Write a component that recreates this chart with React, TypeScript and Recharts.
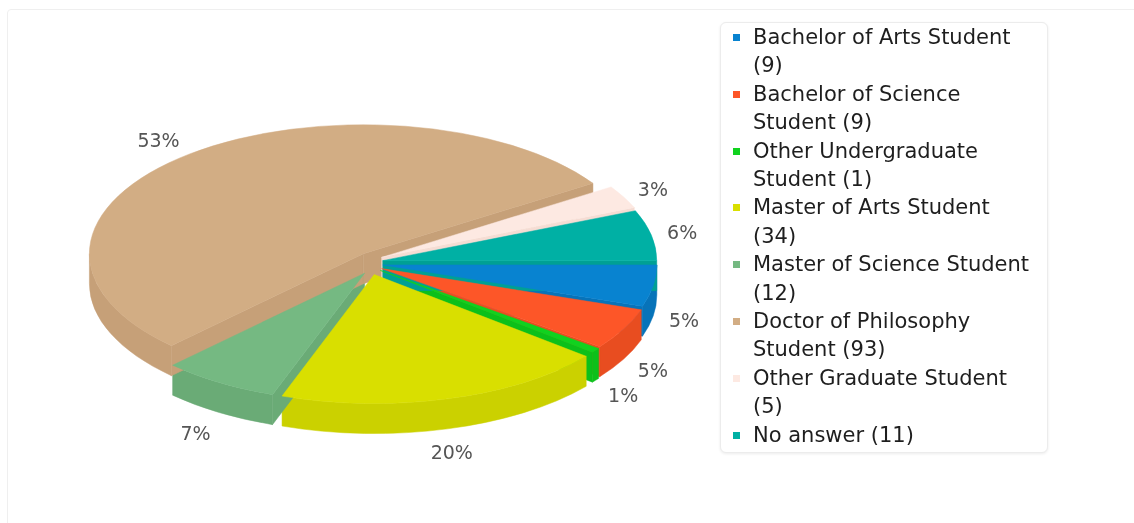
import React from 'react';
import { PieChart, Pie, Legend } from 'recharts';

const CATEGORIES = [
  'Bachelor of Arts Student',
  'Bachelor of Science Student',
  'Other Undergraduate Student',
  'Master of Arts Student',
  'Master of Science Student',
  'Doctor of Philosophy Student',
  'Other Graduate Student',
  'No answer',
];
const COUNTS = [9, 9, 1, 34, 12, 93, 5, 11];
const TOP_COLORS = ['#0883d0', '#fd5628', '#10d21f', '#d9df00', '#75b982', '#d2ad84', '#fde9e2', '#00b0a4'];
const SIDE_COLORS = ['#0773b9', '#e84d20', '#0cc01a', '#cbd100', '#6aab76', '#c6a078', '#f5dcd3', '#00a094'];

const data = CATEGORIES.map((name, i) => ({ name, value: COUNTS[i] }));

const K = 129 / 274;
const DEPTH = 30;
const EXPLODE = 12;
const FONT = '"DejaVu Sans", sans-serif';

const rad = (d: number) => (d * Math.PI) / 180;

function geom(p: any) {
  const rx = p.outerRadius;
  const ry = rx * K;
  const t1 = -p.startAngle;
  const t2 = -p.endAngle;
  const m = -p.midAngle;
  const ax = p.cx + EXPLODE * Math.cos(rad(m));
  const ay = p.cy + EXPLODE * Math.sin(rad(m));
  const pt = (t: number, dy = 0) => [ax + rx * Math.cos(rad(t)), ay + ry * Math.sin(rad(t)) + dy];
  return { rx, ry, t1, t2, m, ax, ay, pt };
}

const f = (n: number) => n.toFixed(2);

const renderSides = (p: any) => {
  const { rx, ry, t1, t2, ax, ay, pt } = geom(p);
  const color = SIDE_COLORS[p.index];
  const parts: React.ReactNode[] = [];
  const face = (t: number, key: string) => {
    const [x, y] = pt(t);
    const [x2, y2] = pt(t, DEPTH);
    parts.push(
      <path
        key={key}
        d={`M${f(ax)},${f(ay)} L${f(x)},${f(y)} L${f(x2)},${f(y2)} L${f(ax)},${f(ay + DEPTH)} Z`}
        fill={color}
        stroke={color}
        strokeWidth={0.5}
      />
    );
  };
  if (Math.cos(rad(t1)) < 0) face(t1, 's');
  if (Math.cos(rad(t2)) > 0) face(t2, 'e');
  const a = Math.max(t1, 0);
  const b = Math.min(t2, 180);
  if (b > a) {
    const [x1, y1] = pt(a);
    const [x2, y2] = pt(b);
    const [x3, y3] = pt(b, DEPTH);
    const [x4, y4] = pt(a, DEPTH);
    parts.push(
      <path
        key="o"
        d={`M${f(x1)},${f(y1)} A${f(rx)},${f(ry)} 0 0 1 ${f(x2)},${f(y2)} L${f(x3)},${f(y3)} A${f(rx)},${f(ry)} 0 0 0 ${f(x4)},${f(y4)} Z`}
        fill={color}
        stroke={color}
        strokeWidth={0.5}
      />
    );
  }
  return <g key={`side-${p.index}`}>{parts}</g>;
};

const renderTops = (p: any) => {
  const { rx, ry, t1, t2, m, ax, ay, pt } = geom(p);
  const color = TOP_COLORS[p.index];
  const [x1, y1] = pt(t1);
  const [x2, y2] = pt(t2);
  const large = t2 - t1 > 180 ? 1 : 0;
  const cm = Math.cos(rad(m));
  const sm = Math.sin(rad(m));
  const front = sm > 0;
  const lx = p.cx + (rx + 28) * cm;
  const ly = p.cy + (ry + (front ? 36 : 30)) * sm + (front ? DEPTH : 0);
  const anchor = cm > 0.3 ? 'start' : cm < -0.3 ? 'end' : 'middle';
  return (
    <g key={`top-${p.index}`}>
      <path
        d={`M${f(ax)},${f(ay)} L${f(x1)},${f(y1)} A${f(rx)},${f(ry)} 0 ${large} 1 ${f(x2)},${f(y2)} Z`}
        fill={color}
        stroke={color}
        strokeWidth={0.5}
      />
      <text
        x={lx}
        y={ly}
        textAnchor={anchor}
        dominantBaseline="central"
        fill="#555555"
        fontSize={19}
        fontFamily={FONT}
      >
        {`${Math.round(p.percent * 100)}%`}
      </text>
    </g>
  );
};

const renderLegend = (props: any) => {
  const seen = new Set<string>();
  const items = (props.payload || [])
    .filter((e: any) => {
      if (e.type === 'none' || seen.has(e.value)) return false;
      seen.add(e.value);
      return true;
    })
    .sort((a: any, b: any) => CATEGORIES.indexOf(a.value) - CATEGORIES.indexOf(b.value));
  return (
    <div
      style={{
        border: '1px solid #ececec',
        borderRadius: 6,
        boxShadow: '0 1px 3px rgba(0,0,0,0.08)',
        background: '#fff',
        paddingBottom: 3,
        fontFamily: FONT,
        fontSize: 21,
        lineHeight: '28.4px',
        color: '#1e1e1e',
        width: 328,
        boxSizing: 'border-box',
        textAlign: 'left',
      }}
    >
      {items.map((e: any) => {
        const idx = CATEGORIES.indexOf(e.value);
        return (
          <div key={e.value} style={{ display: 'flex', alignItems: 'flex-start' }}>
            <span
              style={{
                width: 7,
                height: 7,
                background: TOP_COLORS[idx],
                margin: '11px 13px 0 12px',
                flex: 'none',
              }}
            />
            <span style={{ width: 282 }}>{`${e.value} (${COUNTS[idx]})`}</span>
          </div>
        );
      })}
    </div>
  );
};

export default function App() {
  return (
    <div
      style={{
        position: 'fixed',
        left: 7,
        top: 9,
        width: 1140,
        height: 530,
        border: '1px solid #efefef',
        borderRadius: 4,
        background: '#fff',
      }}
    >
      <PieChart width={1126} height={513} margin={{ top: 0, right: 0, bottom: 0, left: 0 }}>
        <Pie
          data={data}
          dataKey="value"
          nameKey="name"
          cx={363}
          cy={253}
          outerRadius={274}
          startAngle={0}
          endAngle={-360}
          fill="none"
          stroke="none"
          legendType="none"
          label={renderSides}
          labelLine={false}
          isAnimationActive={false}
        />
        <Pie
          data={data}
          dataKey="value"
          nameKey="name"
          cx={363}
          cy={253}
          outerRadius={274}
          startAngle={0}
          endAngle={-360}
          fill="none"
          stroke="none"
          legendType="square"
          label={renderTops}
          labelLine={false}
          isAnimationActive={false}
        />
        <Legend
          content={renderLegend}
          layout="vertical"
          align="right"
          verticalAlign="top"
          wrapperStyle={{ position: 'absolute', left: 712, top: 12, width: 330, right: 'auto', bottom: 'auto' }}
        />
      </PieChart>
    </div>
  );
}
